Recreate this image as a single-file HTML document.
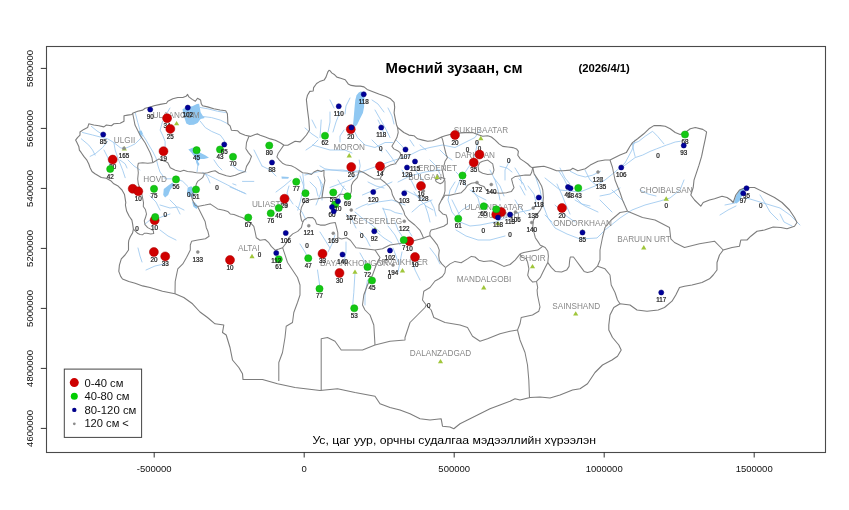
<!DOCTYPE html><html><head><meta charset="utf-8"><style>html,body{margin:0;padding:0;background:#fff;}#w{width:849px;height:510px;overflow:hidden;}svg{display:block;will-change:transform;}text{font-family:"Liberation Sans",Arial,sans-serif;}</style></head><body><div id="w">
<svg width="849" height="510" viewBox="0 0 849 510">
<rect width="849" height="510" fill="#fff"/>
<path d="M188.3 149.6 L192.7 147.7 L197.8 150.2 L200.3 152.7 L205.3 155.2 L209.0 157.7 L204.0 159.0 L200.3 159.0 L197.8 161.5 L199.5 164.0 L198.5 166.0 L196.5 163.0 L195.2 157.7 L191.5 152.7 Z" fill="#90c8f2" stroke="none"/>
<path d="M163.8 188.9 L168.9 185.1 L172.6 182.6 L173.9 185.1 L170.1 190.1 L168.2 195.1 L165.1 197.6 L163.2 195.1 Z" fill="#90c8f2" stroke="none"/>
<path d="M187.7 187.6 L191.4 186.3 L195.2 191.4 L192.7 197.6 L188.9 196.4 L187.1 192.6 Z" fill="#90c8f2" stroke="none"/>
<path d="M192.1 201.4 L195.2 202.7 L198.3 206.4 L196.5 208.9 L193.3 206.4 Z" fill="#90c8f2" stroke="none"/>
<path d="M138.8 131.0 L141.5 130.5 L143.0 134.0 L141.0 136.0 L139.0 134.0 Z" fill="#90c8f2" stroke="none"/>
<path d="M281.4 176.4 L289.0 177.0 L288.0 178.6 L282.0 178.6 Z" fill="#90c8f2" stroke="none"/>
<path d="M734.0 202.6 L736.0 196.0 L739.0 190.5 L743.0 188.0 L744.5 190.0 L742.0 196.0 L739.5 201.0 L736.5 203.5 Z" fill="#90c8f2" stroke="none"/>
<path d="M182.5 109.3 L186.3 107.1 L192.3 106.3 L196.9 104.0 L199.1 103.7 L199.9 107.8 L200.6 112.3 L202.9 116.1 L204.8 118.0 L200.6 119.1 L197.6 122.9 L193.8 124.8 L189.3 125.1 L186.3 123.6 L184.8 119.1 L183.3 113.8 Z" fill="#90c8f2" stroke="none"/>
<path d="M361.2 91.2 L364.7 95.3 L364.1 101.2 L364.1 107.1 L362.9 112.9 L360.0 118.8 L357.1 124.7 L354.7 127.1 L352.9 125.9 L353.5 120.0 L354.1 112.9 L354.7 105.9 L355.3 100.0 L356.5 95.3 L358.8 92.4 Z" fill="#90c8f2" stroke="none"/>
<path d="M320.0 165.9 L324.9 168.8 L332.0 170.0 L342.0 171.0 L352.0 171.5 L359.2 170.8" fill="none" stroke="#9cc8ee" stroke-width="0.85" stroke-linejoin="round" stroke-linecap="round"/>
<path d="M359.2 160.0 L360.2 165.9 L359.2 170.8" fill="none" stroke="#9cc8ee" stroke-width="0.85" stroke-linejoin="round" stroke-linecap="round"/>
<path d="M382.7 208.8 L390.2 210.1 L395.2 212.6 L402.0 214.0" fill="none" stroke="#9cc8ee" stroke-width="0.85" stroke-linejoin="round" stroke-linecap="round"/>
<path d="M367.6 203.8 L362.0 206.0 L356.0 209.0" fill="none" stroke="#9cc8ee" stroke-width="0.85" stroke-linejoin="round" stroke-linecap="round"/>
<path d="M372.0 228.0 L378.0 233.0 L384.0 238.0 L392.0 243.0" fill="none" stroke="#9cc8ee" stroke-width="0.85" stroke-linejoin="round" stroke-linecap="round"/>
<path d="M346.0 214.0 L352.0 220.0 L356.0 228.0" fill="none" stroke="#9cc8ee" stroke-width="0.85" stroke-linejoin="round" stroke-linecap="round"/>
<path d="M360.0 232.0 L366.0 238.0 L370.0 246.0" fill="none" stroke="#9cc8ee" stroke-width="0.85" stroke-linejoin="round" stroke-linecap="round"/>
<path d="M395.0 222.0 L398.0 230.0 L402.0 236.0" fill="none" stroke="#9cc8ee" stroke-width="0.85" stroke-linejoin="round" stroke-linecap="round"/>
<path d="M414.0 192.0 L420.0 200.0 L426.0 206.0 L433.0 210.0" fill="none" stroke="#9cc8ee" stroke-width="0.85" stroke-linejoin="round" stroke-linecap="round"/>
<path d="M425.0 205.0 L428.0 214.0 L430.0 222.0" fill="none" stroke="#9cc8ee" stroke-width="0.85" stroke-linejoin="round" stroke-linecap="round"/>
<path d="M408.0 175.0 L412.0 182.0 L416.0 190.0" fill="none" stroke="#9cc8ee" stroke-width="0.85" stroke-linejoin="round" stroke-linecap="round"/>
<path d="M368.0 182.0 L376.0 186.0 L384.0 188.0" fill="none" stroke="#9cc8ee" stroke-width="0.85" stroke-linejoin="round" stroke-linecap="round"/>
<path d="M338.0 180.0 L342.0 186.0 L346.0 190.0" fill="none" stroke="#9cc8ee" stroke-width="0.85" stroke-linejoin="round" stroke-linecap="round"/>
<path d="M310.0 182.0 L316.0 188.0 L318.0 196.0" fill="none" stroke="#9cc8ee" stroke-width="0.85" stroke-linejoin="round" stroke-linecap="round"/>
<path d="M296.0 206.0 L302.0 212.0 L306.0 220.0" fill="none" stroke="#9cc8ee" stroke-width="0.85" stroke-linejoin="round" stroke-linecap="round"/>
<path d="M286.0 196.0 L280.0 204.0 L276.0 212.0" fill="none" stroke="#9cc8ee" stroke-width="0.85" stroke-linejoin="round" stroke-linecap="round"/>
<path d="M335.0 235.0 L332.0 244.0 L328.0 252.0" fill="none" stroke="#9cc8ee" stroke-width="0.85" stroke-linejoin="round" stroke-linecap="round"/>
<path d="M346.0 242.0 L346.0 252.0 L344.0 262.0" fill="none" stroke="#9cc8ee" stroke-width="0.85" stroke-linejoin="round" stroke-linecap="round"/>
<path d="M360.0 253.0 L365.0 262.0 L366.0 270.0" fill="none" stroke="#9cc8ee" stroke-width="0.85" stroke-linejoin="round" stroke-linecap="round"/>
<path d="M393.0 248.0 L396.0 256.0 L398.0 262.0" fill="none" stroke="#9cc8ee" stroke-width="0.85" stroke-linejoin="round" stroke-linecap="round"/>
<path d="M430.0 248.0 L436.0 256.0 L440.0 264.0" fill="none" stroke="#9cc8ee" stroke-width="0.85" stroke-linejoin="round" stroke-linecap="round"/>
<path d="M456.0 230.0 L466.0 236.0 L478.0 240.0 L490.0 240.0 L505.0 236.0" fill="none" stroke="#9cc8ee" stroke-width="0.85" stroke-linejoin="round" stroke-linecap="round"/>
<path d="M470.0 205.0 L462.0 210.0 L458.0 214.0" fill="none" stroke="#9cc8ee" stroke-width="0.85" stroke-linejoin="round" stroke-linecap="round"/>
<path d="M515.0 200.0 L520.0 208.0 L526.0 214.0" fill="none" stroke="#9cc8ee" stroke-width="0.85" stroke-linejoin="round" stroke-linecap="round"/>
<path d="M528.0 186.0 L534.0 194.0 L536.0 202.0" fill="none" stroke="#9cc8ee" stroke-width="0.85" stroke-linejoin="round" stroke-linecap="round"/>
<path d="M557.0 184.0 L562.0 195.0 L566.0 205.0 L570.0 214.0" fill="none" stroke="#9cc8ee" stroke-width="0.85" stroke-linejoin="round" stroke-linecap="round"/>
<path d="M575.0 200.0 L585.0 206.0 L598.0 212.0" fill="none" stroke="#9cc8ee" stroke-width="0.85" stroke-linejoin="round" stroke-linecap="round"/>
<path d="M600.0 196.0 L610.0 194.0 L620.0 188.0" fill="none" stroke="#9cc8ee" stroke-width="0.85" stroke-linejoin="round" stroke-linecap="round"/>
<path d="M515.0 168.0 L520.0 176.0 L522.0 184.0" fill="none" stroke="#9cc8ee" stroke-width="0.85" stroke-linejoin="round" stroke-linecap="round"/>
<path d="M494.0 178.0 L500.0 186.0 L504.0 196.0" fill="none" stroke="#9cc8ee" stroke-width="0.85" stroke-linejoin="round" stroke-linecap="round"/>
<path d="M456.0 172.0 L462.0 178.0 L466.0 186.0" fill="none" stroke="#9cc8ee" stroke-width="0.85" stroke-linejoin="round" stroke-linecap="round"/>
<path d="M430.0 160.0 L436.0 166.0 L440.0 174.0" fill="none" stroke="#9cc8ee" stroke-width="0.85" stroke-linejoin="round" stroke-linecap="round"/>
<path d="M415.0 170.0 L420.0 176.0 L424.0 182.0" fill="none" stroke="#9cc8ee" stroke-width="0.85" stroke-linejoin="round" stroke-linecap="round"/>
<path d="M402.0 170.0 L406.0 176.0" fill="none" stroke="#9cc8ee" stroke-width="0.85" stroke-linejoin="round" stroke-linecap="round"/>
<path d="M386.0 150.0 L392.0 158.0 L396.0 164.0" fill="none" stroke="#9cc8ee" stroke-width="0.85" stroke-linejoin="round" stroke-linecap="round"/>
<path d="M372.0 140.0 L378.0 146.0 L382.0 152.0" fill="none" stroke="#9cc8ee" stroke-width="0.85" stroke-linejoin="round" stroke-linecap="round"/>
<path d="M344.0 130.0 L340.0 136.0 L340.0 142.0" fill="none" stroke="#9cc8ee" stroke-width="0.85" stroke-linejoin="round" stroke-linecap="round"/>
<path d="M330.0 112.0 L330.0 122.0 L328.0 132.0" fill="none" stroke="#9cc8ee" stroke-width="0.85" stroke-linejoin="round" stroke-linecap="round"/>
<path d="M318.0 140.0 L312.0 146.0 L306.0 150.0" fill="none" stroke="#9cc8ee" stroke-width="0.85" stroke-linejoin="round" stroke-linecap="round"/>
<path d="M388.0 108.0 L392.0 116.0 L394.0 124.0" fill="none" stroke="#9cc8ee" stroke-width="0.85" stroke-linejoin="round" stroke-linecap="round"/>
<path d="M262.0 166.0 L270.0 170.0 L276.0 176.0" fill="none" stroke="#9cc8ee" stroke-width="0.85" stroke-linejoin="round" stroke-linecap="round"/>
<path d="M254.0 150.0 L258.0 158.0 L262.0 166.0" fill="none" stroke="#9cc8ee" stroke-width="0.85" stroke-linejoin="round" stroke-linecap="round"/>
<path d="M232.0 165.0 L238.0 170.0 L246.0 172.0" fill="none" stroke="#9cc8ee" stroke-width="0.85" stroke-linejoin="round" stroke-linecap="round"/>
<path d="M214.0 160.0 L218.0 166.0 L222.0 170.0" fill="none" stroke="#9cc8ee" stroke-width="0.85" stroke-linejoin="round" stroke-linecap="round"/>
<path d="M104.0 150.0 L108.0 158.0 L110.0 166.0" fill="none" stroke="#9cc8ee" stroke-width="0.85" stroke-linejoin="round" stroke-linecap="round"/>
<path d="M128.0 160.0 L134.0 166.0 L140.0 170.0" fill="none" stroke="#9cc8ee" stroke-width="0.85" stroke-linejoin="round" stroke-linecap="round"/>
<path d="M150.0 196.0 L156.0 202.0 L160.0 210.0" fill="none" stroke="#9cc8ee" stroke-width="0.85" stroke-linejoin="round" stroke-linecap="round"/>
<path d="M170.0 200.0 L176.0 206.0 L180.0 214.0" fill="none" stroke="#9cc8ee" stroke-width="0.85" stroke-linejoin="round" stroke-linecap="round"/>
<path d="M160.0 230.0 L168.0 236.0 L176.0 240.0" fill="none" stroke="#9cc8ee" stroke-width="0.85" stroke-linejoin="round" stroke-linecap="round"/>
<path d="M146.0 270.0 L155.0 266.0 L165.0 263.8" fill="none" stroke="#9cc8ee" stroke-width="0.85" stroke-linejoin="round" stroke-linecap="round"/>
<path d="M138.0 248.0 L140.0 256.0 L142.0 262.0" fill="none" stroke="#9cc8ee" stroke-width="0.85" stroke-linejoin="round" stroke-linecap="round"/>
<path d="M559.0 171.3 L564.0 178.9 L567.0 185.0" fill="none" stroke="#9cc8ee" stroke-width="0.85" stroke-linejoin="round" stroke-linecap="round"/>
<path d="M570.3 171.3 L577.8 175.1 L585.3 177.0 L592.8 175.1 L600.4 171.3" fill="none" stroke="#9cc8ee" stroke-width="0.85" stroke-linejoin="round" stroke-linecap="round"/>
<path d="M500.0 166.3 L507.0 168.0 L512.0 172.0" fill="none" stroke="#9cc8ee" stroke-width="0.85" stroke-linejoin="round" stroke-linecap="round"/>
<path d="M518.8 178.9 L523.0 183.0 L526.0 190.0" fill="none" stroke="#9cc8ee" stroke-width="0.85" stroke-linejoin="round" stroke-linecap="round"/>
<path d="M576.0 198.0 L582.0 204.0 L590.0 206.0" fill="none" stroke="#9cc8ee" stroke-width="0.85" stroke-linejoin="round" stroke-linecap="round"/>
<path d="M545.0 215.0 L552.0 222.0" fill="none" stroke="#9cc8ee" stroke-width="0.85" stroke-linejoin="round" stroke-linecap="round"/>
<path d="M600.0 200.0 L606.0 206.0 L612.0 212.0" fill="none" stroke="#9cc8ee" stroke-width="0.85" stroke-linejoin="round" stroke-linecap="round"/>
<path d="M612.0 190.0 L618.0 196.0 L624.0 202.0" fill="none" stroke="#9cc8ee" stroke-width="0.85" stroke-linejoin="round" stroke-linecap="round"/>
<path d="M640.0 190.0 L648.0 194.0 L656.0 196.0" fill="none" stroke="#9cc8ee" stroke-width="0.85" stroke-linejoin="round" stroke-linecap="round"/>
<path d="M720.0 215.0 L728.0 210.0 L736.0 206.0" fill="none" stroke="#9cc8ee" stroke-width="0.85" stroke-linejoin="round" stroke-linecap="round"/>
<path d="M440.0 150.0 L446.0 156.0 L452.0 160.0" fill="none" stroke="#9cc8ee" stroke-width="0.85" stroke-linejoin="round" stroke-linecap="round"/>
<path d="M420.0 145.0 L426.0 150.0" fill="none" stroke="#9cc8ee" stroke-width="0.85" stroke-linejoin="round" stroke-linecap="round"/>
<path d="M410.0 140.0 L414.0 146.0" fill="none" stroke="#9cc8ee" stroke-width="0.85" stroke-linejoin="round" stroke-linecap="round"/>
<path d="M378.0 120.0 L382.0 128.0 L384.0 134.0" fill="none" stroke="#9cc8ee" stroke-width="0.85" stroke-linejoin="round" stroke-linecap="round"/>
<path d="M396.0 140.0 L402.0 146.0 L406.0 152.0" fill="none" stroke="#9cc8ee" stroke-width="0.85" stroke-linejoin="round" stroke-linecap="round"/>
<path d="M330.0 100.0 L334.0 108.0" fill="none" stroke="#9cc8ee" stroke-width="0.85" stroke-linejoin="round" stroke-linecap="round"/>
<path d="M350.0 98.0 L346.0 106.0 L345.0 114.0" fill="none" stroke="#9cc8ee" stroke-width="0.85" stroke-linejoin="round" stroke-linecap="round"/>
<path d="M312.0 120.0 L316.0 128.0" fill="none" stroke="#9cc8ee" stroke-width="0.85" stroke-linejoin="round" stroke-linecap="round"/>
<path d="M305.0 128.0 L312.0 134.0 L318.0 138.0" fill="none" stroke="#9cc8ee" stroke-width="0.85" stroke-linejoin="round" stroke-linecap="round"/>
<path d="M472.0 190.0 L478.0 198.0 L480.0 206.0" fill="none" stroke="#9cc8ee" stroke-width="0.85" stroke-linejoin="round" stroke-linecap="round"/>
<path d="M452.0 200.0 L456.0 208.0 L460.0 216.0" fill="none" stroke="#9cc8ee" stroke-width="0.85" stroke-linejoin="round" stroke-linecap="round"/>
<path d="M430.0 200.0 L434.0 208.0 L436.0 216.0" fill="none" stroke="#9cc8ee" stroke-width="0.85" stroke-linejoin="round" stroke-linecap="round"/>
<path d="M408.0 230.0 L412.0 236.0" fill="none" stroke="#9cc8ee" stroke-width="0.85" stroke-linejoin="round" stroke-linecap="round"/>
<path d="M383.0 208.0 L386.0 216.0 L388.0 224.0" fill="none" stroke="#9cc8ee" stroke-width="0.85" stroke-linejoin="round" stroke-linecap="round"/>
<path d="M680.2 141.3 L675.2 142.0 L670.2 143.8 L666.4 145.1 L661.4 147.0 L656.4 148.9 L650.1 151.4 L642.6 155.1 L635.1 157.6 L630.0 161.4 L625.0 165.2 L621.3 167.7" fill="none" stroke="#9cc8ee" stroke-width="0.85" stroke-linejoin="round" stroke-linecap="round"/>
<path d="M632.5 143.8 L638.8 141.3 L645.1 136.3 L652.6 131.3 L657.6 136.3 L663.9 143.8" fill="none" stroke="#9cc8ee" stroke-width="0.85" stroke-linejoin="round" stroke-linecap="round"/>
<path d="M632.5 143.8 L633.8 151.4 L635.1 156.4" fill="none" stroke="#9cc8ee" stroke-width="0.85" stroke-linejoin="round" stroke-linecap="round"/>
<path d="M82.5 132.5 L92.6 135.0 L102.6 137.6 L107.6 138.8 L113.9 142.6 L120.2 147.6 L124.0 148.9 L130.2 146.3 L135.2 143.8 L140.3 138.8 L142.8 135.1" fill="none" stroke="#9cc8ee" stroke-width="0.85" stroke-linejoin="round" stroke-linecap="round"/>
<path d="M81.3 138.8 L88.8 145.1 L92.6 150.1 L95.1 155.1" fill="none" stroke="#9cc8ee" stroke-width="0.85" stroke-linejoin="round" stroke-linecap="round"/>
<path d="M107.6 141.3 L102.6 147.6 L95.1 153.9 L90.1 156.4" fill="none" stroke="#9cc8ee" stroke-width="0.85" stroke-linejoin="round" stroke-linecap="round"/>
<path d="M113.9 142.6 L115.2 150.1 L117.7 157.6 L120.2 163.9 L122.7 170.2 L125.2 177.7" fill="none" stroke="#9cc8ee" stroke-width="0.85" stroke-linejoin="round" stroke-linecap="round"/>
<path d="M120.2 160.2 L125.2 163.9 L127.0 168.0" fill="none" stroke="#9cc8ee" stroke-width="0.85" stroke-linejoin="round" stroke-linecap="round"/>
<path d="M135.2 112.5 L137.8 122.6 L140.3 131.4" fill="none" stroke="#9cc8ee" stroke-width="0.85" stroke-linejoin="round" stroke-linecap="round"/>
<path d="M142.8 135.1 L146.0 140.0 L150.0 147.0 L153.0 152.0 L156.0 158.0 L158.0 166.0 L160.0 172.0 L165.1 178.8 L171.4 178.8" fill="none" stroke="#9cc8ee" stroke-width="0.85" stroke-linejoin="round" stroke-linecap="round"/>
<path d="M91.3 126.3 L97.0 131.0 L102.0 134.0" fill="none" stroke="#9cc8ee" stroke-width="0.85" stroke-linejoin="round" stroke-linecap="round"/>
<path d="M200.3 107.5 L207.8 108.8 L217.8 111.3 L225.4 112.5" fill="none" stroke="#9cc8ee" stroke-width="0.85" stroke-linejoin="round" stroke-linecap="round"/>
<path d="M201.5 116.3 L211.6 117.6 L220.3 120.1 L227.9 123.8" fill="none" stroke="#9cc8ee" stroke-width="0.85" stroke-linejoin="round" stroke-linecap="round"/>
<path d="M200.3 121.3 L205.3 127.6 L211.6 131.4 L220.3 135.1 L224.1 140.2 L225.4 143.9" fill="none" stroke="#9cc8ee" stroke-width="0.85" stroke-linejoin="round" stroke-linecap="round"/>
<path d="M162.6 121.3 L160.1 130.1 L162.6 135.1 L165.1 141.4 L165.1 150.2" fill="none" stroke="#9cc8ee" stroke-width="0.85" stroke-linejoin="round" stroke-linecap="round"/>
<path d="M170.0 108.0 L167.0 113.0" fill="none" stroke="#9cc8ee" stroke-width="0.85" stroke-linejoin="round" stroke-linecap="round"/>
<path d="M176.4 178.8 L182.7 181.3 L187.7 186.3" fill="none" stroke="#9cc8ee" stroke-width="0.85" stroke-linejoin="round" stroke-linecap="round"/>
<path d="M202.7 172.5 L215.3 178.8 L227.8 185.1 L240.4 191.4 L246.0 193.9" fill="none" stroke="#9cc8ee" stroke-width="0.85" stroke-linejoin="round" stroke-linecap="round"/>
<path d="M205.2 173.8 L208.0 178.0 L210.0 183.0" fill="none" stroke="#9cc8ee" stroke-width="0.85" stroke-linejoin="round" stroke-linecap="round"/>
<path d="M196.3 160.0 L197.8 166.0 L197.0 172.0" fill="none" stroke="#9cc8ee" stroke-width="0.85" stroke-linejoin="round" stroke-linecap="round"/>
<path d="M232.8 183.8 L236.0 185.0" fill="none" stroke="#9cc8ee" stroke-width="0.85" stroke-linejoin="round" stroke-linecap="round"/>
<path d="M242.5 181.4 L253.8 181.4" fill="none" stroke="#9cc8ee" stroke-width="0.85" stroke-linejoin="round" stroke-linecap="round"/>
<path d="M289.0 186.0 L287.0 193.0 L289.0 198.0 L293.0 204.0" fill="none" stroke="#9cc8ee" stroke-width="0.85" stroke-linejoin="round" stroke-linecap="round"/>
<path d="M302.8 173.8 L304.0 185.1 L300.3 201.4 L297.8 210.2" fill="none" stroke="#9cc8ee" stroke-width="0.85" stroke-linejoin="round" stroke-linecap="round"/>
<path d="M317.8 176.3 L322.8 185.1 L320.0 195.0 L316.0 205.0" fill="none" stroke="#9cc8ee" stroke-width="0.85" stroke-linejoin="round" stroke-linecap="round"/>
<path d="M230.0 187.0 L237.5 190.1 L245.0 193.3" fill="none" stroke="#9cc8ee" stroke-width="0.85" stroke-linejoin="round" stroke-linecap="round"/>
<path d="M160.0 205.0 L170.0 208.0 L178.0 207.0 L184.0 210.0" fill="none" stroke="#9cc8ee" stroke-width="0.85" stroke-linejoin="round" stroke-linecap="round"/>
<path d="M145.0 224.0 L150.0 220.0 L156.0 219.0 L164.0 216.0 L170.0 214.0" fill="none" stroke="#9cc8ee" stroke-width="0.85" stroke-linejoin="round" stroke-linecap="round"/>
<path d="M321.2 120.0 L320.0 137.5" fill="none" stroke="#9cc8ee" stroke-width="0.85" stroke-linejoin="round" stroke-linecap="round"/>
<path d="M352.5 127.5 L357.5 137.5 L365.0 145.0 L375.0 147.5 L385.0 142.5 L392.5 142.5" fill="none" stroke="#9cc8ee" stroke-width="0.85" stroke-linejoin="round" stroke-linecap="round"/>
<path d="M375.0 110.0 L385.0 127.5 L390.0 137.5" fill="none" stroke="#9cc8ee" stroke-width="0.85" stroke-linejoin="round" stroke-linecap="round"/>
<path d="M372.0 100.0 L378.0 104.0 L384.0 112.0" fill="none" stroke="#9cc8ee" stroke-width="0.85" stroke-linejoin="round" stroke-linecap="round"/>
<path d="M340.0 112.0 L336.0 122.0 L333.0 132.0" fill="none" stroke="#9cc8ee" stroke-width="0.85" stroke-linejoin="round" stroke-linecap="round"/>
<path d="M312.5 145.0 L330.0 150.0 L345.0 150.0 L352.0 153.0" fill="none" stroke="#9cc8ee" stroke-width="0.85" stroke-linejoin="round" stroke-linecap="round"/>
<path d="M305.0 175.0 L325.0 170.0 L342.5 170.0 L360.0 172.5" fill="none" stroke="#9cc8ee" stroke-width="0.85" stroke-linejoin="round" stroke-linecap="round"/>
<path d="M360.0 172.5 L380.0 165.0 L395.0 160.0 L410.0 155.0 L420.0 150.0 L430.0 147.5 L442.5 145.0 L455.0 147.5 L465.0 142.5 L475.0 137.5 L480.0 130.0" fill="none" stroke="#9cc8ee" stroke-width="0.85" stroke-linejoin="round" stroke-linecap="round"/>
<path d="M455.0 192.5 L460.0 180.0 L465.0 172.5 L470.0 165.0 L475.0 155.0 L477.5 142.5" fill="none" stroke="#9cc8ee" stroke-width="0.85" stroke-linejoin="round" stroke-linecap="round"/>
<path d="M330.0 187.5 L350.0 180.0 L360.0 172.5" fill="none" stroke="#9cc8ee" stroke-width="0.85" stroke-linejoin="round" stroke-linecap="round"/>
<path d="M362.5 195.0 L380.0 187.5 L392.0 182.0" fill="none" stroke="#9cc8ee" stroke-width="0.85" stroke-linejoin="round" stroke-linecap="round"/>
<path d="M300.0 176.0 L303.0 184.0 L305.0 192.0" fill="none" stroke="#9cc8ee" stroke-width="0.85" stroke-linejoin="round" stroke-linecap="round"/>
<path d="M291.0 180.0 L284.0 186.0 L276.0 192.0" fill="none" stroke="#9cc8ee" stroke-width="0.85" stroke-linejoin="round" stroke-linecap="round"/>
<path d="M320.0 180.0 L322.0 190.0 L322.0 200.0" fill="none" stroke="#9cc8ee" stroke-width="0.85" stroke-linejoin="round" stroke-linecap="round"/>
<path d="M344.0 186.0 L340.0 195.0 L338.0 205.0" fill="none" stroke="#9cc8ee" stroke-width="0.85" stroke-linejoin="round" stroke-linecap="round"/>
<path d="M282.0 178.0 L288.0 178.0" fill="none" stroke="#9cc8ee" stroke-width="0.85" stroke-linejoin="round" stroke-linecap="round"/>
<path d="M398.0 182.0 L410.0 176.0 L425.0 172.0 L440.0 170.0" fill="none" stroke="#9cc8ee" stroke-width="0.85" stroke-linejoin="round" stroke-linecap="round"/>
<path d="M405.0 190.0 L415.0 195.0 L425.0 200.0" fill="none" stroke="#9cc8ee" stroke-width="0.85" stroke-linejoin="round" stroke-linecap="round"/>
<path d="M368.0 205.0 L378.0 202.0 L392.0 200.0 L405.0 205.0" fill="none" stroke="#9cc8ee" stroke-width="0.85" stroke-linejoin="round" stroke-linecap="round"/>
<path d="M355.0 212.0 L362.0 218.0 L372.0 225.0 L380.0 232.0" fill="none" stroke="#9cc8ee" stroke-width="0.85" stroke-linejoin="round" stroke-linecap="round"/>
<path d="M388.0 226.0 L395.0 235.0 L400.0 245.0" fill="none" stroke="#9cc8ee" stroke-width="0.85" stroke-linejoin="round" stroke-linecap="round"/>
<path d="M412.0 212.0 L420.0 205.0 L432.0 200.0" fill="none" stroke="#9cc8ee" stroke-width="0.85" stroke-linejoin="round" stroke-linecap="round"/>
<path d="M537.0 205.0 L530.0 210.0 L520.0 212.0 L505.0 218.0 L495.0 222.0 L480.0 225.0 L470.0 226.0 L460.0 222.0 L452.0 212.0 L448.0 200.0 L450.0 190.0 L455.0 182.0" fill="none" stroke="#9cc8ee" stroke-width="0.85" stroke-linejoin="round" stroke-linecap="round"/>
<path d="M470.0 190.0 L478.0 196.0 L486.0 200.0" fill="none" stroke="#9cc8ee" stroke-width="0.85" stroke-linejoin="round" stroke-linecap="round"/>
<path d="M490.0 170.0 L495.0 180.0 L498.0 190.0 L500.0 200.0" fill="none" stroke="#9cc8ee" stroke-width="0.85" stroke-linejoin="round" stroke-linecap="round"/>
<path d="M510.0 160.0 L505.0 170.0 L505.0 180.0" fill="none" stroke="#9cc8ee" stroke-width="0.85" stroke-linejoin="round" stroke-linecap="round"/>
<path d="M520.0 186.0 L525.0 195.0" fill="none" stroke="#9cc8ee" stroke-width="0.85" stroke-linejoin="round" stroke-linecap="round"/>
<path d="M545.0 178.0 L560.0 190.0 L580.0 192.0 L595.0 186.0 L605.0 180.0 L615.0 172.0 L625.0 163.0 L632.0 150.0 L635.0 140.0" fill="none" stroke="#9cc8ee" stroke-width="0.85" stroke-linejoin="round" stroke-linecap="round"/>
<path d="M535.0 175.0 L540.0 190.0 L543.0 205.0 L548.0 218.0 L555.0 228.0 L567.0 234.0 L580.0 239.0 L597.0 238.0 L605.0 230.0 L620.0 218.0 L632.0 210.0 L645.0 205.0 L660.0 201.0 L670.0 198.0 L680.0 190.0 L684.0 180.0" fill="none" stroke="#9cc8ee" stroke-width="0.85" stroke-linejoin="round" stroke-linecap="round"/>
<path d="M560.0 168.0 L565.0 178.0 L570.0 184.0" fill="none" stroke="#9cc8ee" stroke-width="0.85" stroke-linejoin="round" stroke-linecap="round"/>
<path d="M585.0 170.0 L590.0 180.0 L596.0 185.0" fill="none" stroke="#9cc8ee" stroke-width="0.85" stroke-linejoin="round" stroke-linecap="round"/>
<path d="M555.0 205.0 L565.0 215.0 L575.0 222.0" fill="none" stroke="#9cc8ee" stroke-width="0.85" stroke-linejoin="round" stroke-linecap="round"/>
<path d="M800.0 225.0 L790.0 215.0 L780.0 208.0 L770.0 205.0 L760.0 202.0 L750.0 199.0 L745.0 198.0" fill="none" stroke="#9cc8ee" stroke-width="0.85" stroke-linejoin="round" stroke-linecap="round"/>
<path d="M760.0 195.0 L765.0 203.0 L770.0 212.0 L778.0 220.0" fill="none" stroke="#9cc8ee" stroke-width="0.85" stroke-linejoin="round" stroke-linecap="round"/>
<path d="M780.0 214.0 L784.0 222.0 L792.0 226.0" fill="none" stroke="#9cc8ee" stroke-width="0.85" stroke-linejoin="round" stroke-linecap="round"/>
<path d="M725.0 205.0 L735.0 203.0" fill="none" stroke="#9cc8ee" stroke-width="0.85" stroke-linejoin="round" stroke-linecap="round"/>
<path d="M317.5 270.0 L320.0 287.5" fill="none" stroke="#9cc8ee" stroke-width="0.85" stroke-linejoin="round" stroke-linecap="round"/>
<path d="M355.0 272.5 L353.8 292.5 L352.5 307.5" fill="none" stroke="#9cc8ee" stroke-width="0.85" stroke-linejoin="round" stroke-linecap="round"/>
<path d="M367.5 280.0 L365.0 295.0 L365.0 305.0" fill="none" stroke="#9cc8ee" stroke-width="0.85" stroke-linejoin="round" stroke-linecap="round"/>
<path d="M402.0 252.0 L400.0 262.0 L398.0 272.0" fill="none" stroke="#9cc8ee" stroke-width="0.85" stroke-linejoin="round" stroke-linecap="round"/>
<path d="M412.0 260.0 L415.0 270.0 L420.0 280.0" fill="none" stroke="#9cc8ee" stroke-width="0.85" stroke-linejoin="round" stroke-linecap="round"/>
<path d="M300.0 244.0 L305.0 252.0 L310.0 262.0" fill="none" stroke="#9cc8ee" stroke-width="0.85" stroke-linejoin="round" stroke-linecap="round"/>
<path d="M320.0 232.0 L325.0 240.0 L330.0 248.0" fill="none" stroke="#9cc8ee" stroke-width="0.85" stroke-linejoin="round" stroke-linecap="round"/>
<path d="M276.0 255.0 L276.0 262.0" fill="none" stroke="#9cc8ee" stroke-width="0.85" stroke-linejoin="round" stroke-linecap="round"/>
<path d="M132.6 113.2 L133.8 118.8 L135.0 125.1 L137.5 130.1 L140.0 135.1 L142.5 138.9 L145.1 142.7 L147.6 147.7 L150.1 152.7 L152.0 157.7 L152.7 162.7" fill="none" stroke="#808080" stroke-width="1.05" stroke-linejoin="round"/>
<path d="M152.7 162.7 L147.7 163.3 L142.7 162.7 L138.3 163.3 L137.7 166.4 L138.3 172.7 L137.7 179.0 L138.3 184.0 L140.2 188.8 L142.0 195.0 L143.5 202.6 L143.3 206.5 L145.4 209.5 L146.5 214.0 L145.4 217.8 L144.3 220.8 L145.0 224.6 L147.7 227.6 L150.7 229.1 L153.3 230.6 L153.7 233.6 L150.7 234.0 L146.9 233.3 L144.3 233.3 L142.4 234.8 L140.1 234.4 L137.9 233.6 L134.9 230.6 L133.4 229.1" fill="none" stroke="#808080" stroke-width="1.05" stroke-linejoin="round"/>
<path d="M152.7 162.7 L159.0 158.9 L165.3 161.4 L167.8 162.7 L170.3 167.7 L175.3 170.2 L180.3 171.4 L183.8 170.2 L187.5 171.4 L192.5 172.0 L196.3 172.7 L204.5 173.3" fill="none" stroke="#808080" stroke-width="1.05" stroke-linejoin="round"/>
<path d="M204.5 173.3 L207.6 172.7 L211.4 171.4 L215.1 170.8 L218.9 173.3 L222.7 174.5 L226.4 175.8 L230.2 176.4 L235.2 175.2 L240.2 173.3 L245.2 171.4 L246.5 166.4 L249.6 161.4 L251.5 156.3 L248.4 152.6 L245.9 148.8 L246.5 142.5 L249.0 136.3" fill="none" stroke="#808080" stroke-width="1.05" stroke-linejoin="round"/>
<path d="M204.5 173.3 L203.8 175.2 L202.6 177.7 L200.0 179.6 L197.6 181.4 L196.3 184.0 L195.5 188.0 L193.0 193.0 L191.3 195.1 L192.5 200.1 L195.1 205.1 L197.6 206.4" fill="none" stroke="#808080" stroke-width="1.05" stroke-linejoin="round"/>
<path d="M197.6 206.4 L205.1 205.1 L210.1 203.9 L213.9 206.4 L217.6 208.9 L223.9 210.2 L227.7 211.4 L230.2 213.9 L234.0 214.5 L239.0 216.4 L242.7 217.7 L246.5 220.2 L250.3 222.7 L253.8 226.4 L255.0 231.4 L256.3 237.7 L260.0 240.2 L265.1 239.5 L268.8 242.7 L271.3 246.4 L275.1 250.2 L278.9 249.0 L282.6 247.7 L286.4 242.7 L288.9 237.7 L292.7 233.9 L297.7 231.4 L301.4 227.6 L302.7 222.6" fill="none" stroke="#808080" stroke-width="1.05" stroke-linejoin="round"/>
<path d="M197.6 206.4 L200.1 211.4 L202.6 216.4 L205.1 221.4 L206.3 227.7 L207.9 231.3 L209.1 236.3 L205.4 238.8 L197.8 240.1 L191.6 241.3 L190.3 245.0 L190.3 250.1 L186.5 257.6 L182.8 263.9 L177.8 268.9 L176.5 275.2 L175.2 281.5 L175.0 293.8" fill="none" stroke="#808080" stroke-width="1.05" stroke-linejoin="round"/>
<path d="M282.6 247.7 L285.1 255.2 L287.5 262.5 L292.5 270.0 L297.5 277.5 L300.0 285.0 L300.0 295.0 L297.5 302.5 L293.8 312.5 L292.5 322.5 L286.2 326.2 L285.0 337.5 L282.5 352.5 L278.8 362.5 L278.8 381.0" fill="none" stroke="#808080" stroke-width="1.05" stroke-linejoin="round"/>
<path d="M324.0 170.2 L323.9 175.7 L324.9 180.6 L323.9 185.5 L322.9 191.4 L322.0 197.7 L318.0 198.8 L312.7 199.3 L307.7 200.3 L304.0 202.5 L301.4 207.5 L300.2 213.8 L301.4 220.1 L302.7 222.6" fill="none" stroke="#808080" stroke-width="1.05" stroke-linejoin="round"/>
<path d="M283.8 145.1 L281.3 148.8 L278.2 153.2 L276.9 157.0 L279.4 160.1 L282.5 163.2 L286.3 165.1 L291.3 165.8 L295.1 167.6 L298.9 170.2 L302.6 172.7 L307.6 173.3 L311.4 174.5 L313.9 172.0 L317.7 170.2 L321.4 171.4 L324.0 170.2" fill="none" stroke="#808080" stroke-width="1.05" stroke-linejoin="round"/>
<path d="M322.0 197.7 L329.0 197.5 L336.7 197.3 L339.6 194.3 L342.5 194.3 L347.5 195.3 L350.4 194.3 L351.4 191.4 L351.4 185.5 L353.3 181.6 L357.3 177.6 L359.2 170.8 L364.1 172.7 L369.0 175.7 L374.9 179.1 L380.3 178.9" fill="none" stroke="#808080" stroke-width="1.05" stroke-linejoin="round"/>
<path d="M380.3 178.9 L382.5 172.7 L385.3 167.6 L390.3 165.1 L395.4 163.8 L398.8 158.9 L400.7 155.1 L400.1 152.6 L397.6 150.7 L393.8 148.9 L391.9 146.3 L394.4 142.0 L396.9 137.6 L398.2 132.5 L397.6 127.5" fill="none" stroke="#808080" stroke-width="1.05" stroke-linejoin="round"/>
<path d="M380.3 178.9 L385.0 182.5 L388.8 186.3 L391.3 190.1 L392.5 195.1 L395.1 200.1 L398.8 202.6 L401.3 206.4 L403.8 211.4 L404.8 215.0 L408.5 220.0 L414.8 225.0 L419.8 230.1 L422.3 235.1 L423.6 238.2" fill="none" stroke="#808080" stroke-width="1.05" stroke-linejoin="round"/>
<path d="M302.7 222.6 L304.0 220.0 L307.7 217.6 L312.7 217.6 L315.2 220.1 L316.5 223.9 L320.3 225.1 L325.3 225.1 L330.3 223.2 L335.3 222.6 L336.6 227.6 L337.8 232.6 L337.8 237.7 L341.6 238.9 L346.6 237.7 L350.4 240.2 L354.1 245.2 L356.0 247.7 L365.0 248.8 L375.0 250.0 L382.5 248.8 L390.0 245.0 L400.0 243.5 L409.8 241.3 L413.6 240.7 L418.6 239.5 L423.6 238.2" fill="none" stroke="#808080" stroke-width="1.05" stroke-linejoin="round"/>
<path d="M375.0 250.0 L380.0 257.5 L376.2 265.0 L372.5 275.0 L367.5 285.0 L363.8 295.0 L362.5 305.0 L365.0 310.0 L370.0 315.0 L373.8 325.0 L375.0 345.0" fill="none" stroke="#808080" stroke-width="1.05" stroke-linejoin="round"/>
<path d="M321.2 390.5 L321.2 338.8 L327.5 337.5 L335.0 341.2 L341.2 350.0 L362.5 350.0 L375.0 345.0 L390.0 341.2 L405.0 340.0 L405.0 337.5 L410.0 322.5 L417.5 315.0 L425.0 307.5 L426.2 305.0" fill="none" stroke="#808080" stroke-width="1.05" stroke-linejoin="round"/>
<path d="M426.2 305.0 L431.2 310.0 L433.8 317.5 L445.0 322.5 L460.0 325.0 L467.5 327.5 L472.5 336.2 L480.0 341.2 L487.5 338.8 L500.0 333.8 L510.0 331.2 L517.5 330.0" fill="none" stroke="#808080" stroke-width="1.05" stroke-linejoin="round"/>
<path d="M517.5 330.0 L520.0 340.0 L525.0 352.5 L527.5 365.0 L528.8 380.0 L529.5 397.5" fill="none" stroke="#808080" stroke-width="1.05" stroke-linejoin="round"/>
<path d="M517.5 330.0 L520.0 323.8 L521.2 317.5 L532.5 315.0 L538.8 311.2 L540.0 307.0 L537.5 295.0 L537.1 290.0 L537.7 287.7 L536.5 281.4" fill="none" stroke="#808080" stroke-width="1.05" stroke-linejoin="round"/>
<path d="M426.2 305.0 L422.5 300.0 L423.8 291.2 L430.0 287.5 L435.0 281.0 L438.7 279.0 L442.4 276.5 L444.9 272.7 L445.6 267.7" fill="none" stroke="#808080" stroke-width="1.05" stroke-linejoin="round"/>
<path d="M423.6 238.2 L426.1 237.0 L429.9 235.7 L429.9 232.6 L431.1 230.1 L436.2 228.8 L443.7 226.3 L447.4 223.8 L447.4 218.8 L446.2 215.0 L442.7 213.9 L439.0 210.2 L439.0 205.1 L441.5 200.1 L444.0 195.1 L445.0 191.0 L445.0 186.4 L445.0 181.4 L443.8 177.6 L442.5 171.3 L443.8 166.3 L445.0 161.3 L447.5 157.5 L446.3 155.0 L445.0 150.0 L443.8 145.0 L442.7 140.1 L441.5 136.9" fill="none" stroke="#808080" stroke-width="1.05" stroke-linejoin="round"/>
<path d="M429.9 235.7 L433.6 240.1 L437.4 245.1 L439.3 250.1 L438.7 255.2 L439.3 260.2 L441.8 263.9 L445.6 267.7" fill="none" stroke="#808080" stroke-width="1.05" stroke-linejoin="round"/>
<path d="M445.6 267.7 L450.0 263.9 L455.0 261.4 L461.2 262.7 L467.5 258.9 L471.3 256.4 L475.0 257.0 L478.8 260.2 L483.8 261.4 L491.4 260.8 L497.6 263.2 L503.8 266.4 L510.1 264.5 L515.1 260.1 L520.2 253.8" fill="none" stroke="#808080" stroke-width="1.05" stroke-linejoin="round"/>
<path d="M520.2 253.8 L523.9 252.6 L530.2 251.3 L537.7 250.1 L542.7 246.3 L545.2 247.5 L547.8 251.3 L548.4 256.3 L547.8 262.6 L545.2 267.6 L542.7 272.6 L540.2 277.7 L536.5 281.4 L532.7 282.1 L529.6 278.9 L527.7 275.2 L528.9 268.9 L527.7 262.6 L526.4 258.8 L521.4 257.0 L520.2 253.8" fill="none" stroke="#808080" stroke-width="1.05" stroke-linejoin="round"/>
<path d="M547.8 262.6 L551.5 267.6 L555.3 271.4 L561.6 272.0 L566.6 270.1 L569.1 266.4 L569.7 260.1 L570.3 257.0 L573.5 257.0 L576.6 261.3 L580.4 266.4 L584.1 271.4 L587.5 272.5 L592.5 271.2 L597.5 266.2" fill="none" stroke="#808080" stroke-width="1.05" stroke-linejoin="round"/>
<path d="M542.7 246.3 L540.3 245.2 L537.8 241.4 L535.3 237.7 L534.0 232.7 L532.8 226.4 L533.4 220.1 L536.5 215.1 L540.3 210.1 L542.8 205.1 L543.4 197.5 L542.8 190.0 L541.6 186.0 L539.1 181.4 L536.6 177.6 L534.1 173.9 L532.8 167.6" fill="none" stroke="#808080" stroke-width="1.05" stroke-linejoin="round"/>
<path d="M441.5 200.1 L445.0 195.2 L450.0 195.2 L455.1 193.9 L461.3 192.7 L465.1 188.9 L467.6 185.2 L471.4 183.3 L476.4 182.6 L480.2 185.2 L483.9 186.4 L486.4 190.2 L490.2 192.1 L495.2 192.7 L500.2 193.3 L506.5 192.7 L511.5 191.4 L514.0 187.7 L512.8 183.9 L511.5 178.9 L515.3 176.4 L520.3 175.7 L525.3 175.1 L530.3 175.1 L531.6 172.6 L532.8 167.6" fill="none" stroke="#808080" stroke-width="1.05" stroke-linejoin="round"/>
<path d="M482.7 161.3 L487.7 160.1 L492.7 163.8 L494.0 170.1 L492.7 173.9 L487.7 174.5 L482.7 173.2 L478.9 171.3 L478.0 166.0 L480.0 162.5 L482.7 161.3" fill="none" stroke="#808080" stroke-width="1.05" stroke-linejoin="round"/>
<path d="M435.2 180.0 L441.5 177.5 L445.0 178.8 L442.7 182.5 L440.2 183.8 L436.5 181.9 L435.2 180.0" fill="none" stroke="#808080" stroke-width="1.05" stroke-linejoin="round"/>
<path d="M610.0 160.0 L612.5 167.5 L615.0 180.0 L620.0 192.5 L622.5 200.0 L627.5 211.2" fill="none" stroke="#808080" stroke-width="1.05" stroke-linejoin="round"/>
<path d="M627.5 211.2 L642.5 217.5 L655.0 220.0 L669.5 227.5 L670.8 238.8 L674.5 242.5 L684.5 247.5 L699.5 243.8 L714.5 241.2 L723.2 250.0" fill="none" stroke="#808080" stroke-width="1.05" stroke-linejoin="round"/>
<path d="M627.5 211.2 L620.0 212.5 L611.2 220.0 L605.0 227.5 L602.5 237.5 L600.0 250.0 L600.0 260.0 L597.5 266.2 L605.0 268.8 L610.0 275.0 L611.2 285.0 L615.0 292.5 L617.5 300.0 L620.0 303.8" fill="none" stroke="#808080" stroke-width="1.05" stroke-linejoin="round"/>
<path d="M75.6 140.1 L77.5 137.6 L80.0 135.1 L80.0 132.0 L83.8 129.4 L87.6 127.6 L88.8 123.8 L93.8 125.0 L98.9 125.7 L103.9 126.9 L106.4 125.0 L111.4 125.7 L113.9 123.8 L120.2 123.2 L124.0 121.3 L124.0 115.7 L127.6 115.1 L132.0 114.5 L132.6 113.2 L137.7 111.3 L142.7 110.1 L145.2 108.2 L150.2 107.0 L154.0 105.7 L160.2 104.4 L166.5 103.2 L167.8 101.3 L172.8 98.8 L177.8 97.5 L182.8 97.5 L186.0 96.3 L187.6 94.4 L188.9 96.9 L192.2 99.4 L195.4 101.3 L197.5 98.2 L200.6 100.0 L201.3 103.8 L202.5 105.7 L207.5 106.9 L213.8 108.8 L220.1 110.0 L225.7 110.7 L227.4 113.8 L227.9 123.9 L230.1 125.8 L231.4 130.2 L237.7 130.8 L240.2 133.3 L245.2 135.2 L250.2 136.4 L255.2 134.5 L257.7 133.9 L260.2 135.2 L265.3 137.1 L270.3 138.9 L275.3 140.2 L280.3 142.7 L284.1 145.2 L287.8 145.2 L295.1 141.3 L300.1 141.9 L302.6 139.4 L306.4 135.0 L309.5 130.0 L308.8 120.0 L307.5 110.0 L306.4 99.7 L307.5 95.2 L309.8 91.4 L313.2 91.0 L313.6 87.6 L316.6 83.5 L319.6 81.6 L324.1 80.1 L326.0 77.1 L327.9 71.8 L329.0 70.3 L330.1 70.7 L331.7 72.9 L334.7 74.8 L336.9 77.1 L340.7 78.2 L345.2 79.7 L348.2 83.9 L351.2 85.4 L355.8 86.1 L360.3 86.1 L364.0 86.9 L367.1 89.4 L372.9 91.8 L378.8 94.1 L385.9 96.5 L390.6 98.8 L394.1 102.4 L394.7 107.1 L394.1 112.9 L395.3 118.8 L396.5 124.7 L397.6 127.5 L400.7 130.0 L403.8 132.5 L408.9 135.1 L413.9 135.7 L417.6 138.8 L422.7 140.1 L427.7 141.3 L432.7 140.7 L437.7 138.8 L441.5 136.9 L445.2 135.7 L450.0 134.5 L456.3 133.2 L465.1 132.6 L472.6 132.6 L477.6 134.5 L482.7 136.3 L487.7 135.7 L491.4 137.0 L495.2 140.1 L499.0 143.9 L502.7 146.4 L507.8 147.0 L512.8 147.6 L516.5 148.9 L518.4 151.4 L517.8 155.2 L520.3 158.9 L524.1 161.4 L527.8 164.0 L530.3 166.5 L532.0 167.6 L537.6 166.9 L543.9 166.3 L550.2 168.2 L556.5 170.7 L562.7 170.7 L570.3 170.1 L572.8 168.2 L577.8 170.7 L585.3 168.8 L590.3 165.1 L597.9 161.3 L605.0 160.0 L610.0 160.0 L617.5 156.2 L620.0 155.1 L626.3 152.6 L630.0 146.3 L632.5 142.6 L637.6 138.8 L643.8 133.8 L648.9 128.8 L653.9 125.6 L660.2 125.6 L665.2 126.3 L670.2 128.8 L675.2 132.5 L680.2 134.4 L685.2 132.5 L690.3 128.8 L695.3 127.5 L702.8 129.4 L706.6 131.9 L705.3 138.8 L703.4 147.6 L701.6 156.4 L699.0 165.2 L696.5 172.7 L694.0 180.2 L693.2 187.5 L690.8 195.0 L694.5 200.0 L700.8 206.2 L703.2 202.5 L709.5 200.0 L714.5 198.8 L722.0 196.2 L727.0 197.5 L730.8 200.0 L733.2 202.5 L735.8 195.0 L739.5 190.0 L745.8 187.5 L754.5 187.5 L764.5 192.5 L774.5 197.5 L782.0 202.5 L789.5 210.0 L794.5 217.5 L797.0 222.5 L794.5 226.2 L787.0 228.8 L780.8 227.5 L773.2 227.0 L764.5 230.0 L757.0 231.2 L750.8 236.2 L747.0 240.0 L740.8 240.0 L739.5 246.2 L732.0 247.5 L723.2 250.0 L719.5 255.0 L717.0 262.5 L717.0 270.0 L713.2 275.0 L709.5 278.8 L702.0 282.5 L692.0 285.0 L684.5 286.2 L679.5 287.5 L675.8 295.0 L672.0 301.2 L664.5 307.5 L658.2 310.0 L647.0 311.2 L637.0 310.0 L630.0 305.0 L620.0 303.8 L613.8 307.5 L610.0 315.0 L608.8 325.0 L608.8 330.0 L612.5 337.5 L618.8 345.0 L621.2 350.0 L617.5 356.2 L612.0 360.0 L602.5 365.0 L595.0 372.5 L587.5 383.8 L580.0 388.8 L572.5 390.0 L560.0 395.0 L550.0 398.0 L540.0 397.0 L530.0 397.5 L520.0 400.0 L515.0 398.8 L510.0 401.2 L500.0 405.0 L490.0 408.8 L480.0 413.8 L470.0 418.8 L460.0 423.8 L453.8 428.8 L450.0 427.0 L442.5 426.2 L441.2 418.8 L430.0 420.0 L420.0 418.8 L410.0 413.8 L400.0 410.0 L390.0 407.5 L380.0 403.8 L375.0 396.2 L355.0 392.5 L337.5 388.8 L320.0 390.5 L295.0 387.5 L277.5 383.8 L262.5 379.5 L243.0 379.5 L242.5 373.8 L238.8 367.5 L232.5 360.0 L230.0 347.5 L226.2 335.0 L222.5 332.5 L223.8 325.0 L215.0 323.8 L207.5 317.5 L200.0 312.0 L192.5 303.8 L183.8 297.5 L175.0 293.8 L162.5 291.2 L150.0 287.5 L142.6 285.9 L135.1 283.3 L128.8 281.5 L122.5 279.0 L120.7 276.4 L118.8 271.4 L119.4 265.2 L121.3 258.9 L125.0 255.0 L128.5 250.0 L128.5 243.0 L128.8 240.4 L130.3 236.7 L132.6 232.9 L133.4 229.1 L132.6 223.8 L131.9 220.1 L129.2 216.3 L126.6 211.0 L125.4 205.0 L125.8 202.6 L124.5 194.5 L122.0 190.0 L117.6 185.7 L113.8 183.8 L110.7 180.7 L106.3 178.2 L101.3 177.5 L95.0 173.8 L92.0 171.5 L90.1 167.7 L88.8 164.0 L86.9 160.2 L83.8 156.4 L81.3 152.7 L79.4 150.2 L78.8 146.4 L76.9 142.6 Z" fill="none" stroke="#7c7c7c" stroke-width="1.1" stroke-linejoin="round"/>
<text x="176.1" y="117.7" font-size="8.2" fill="#888" text-anchor="middle">ULAANGOM</text>
<text x="124.5" y="143.3" font-size="8.2" fill="#888" text-anchor="middle">ULGII</text>
<text x="155.2" y="182.0" font-size="8.2" fill="#888" text-anchor="middle">HOVD</text>
<text x="269.8" y="207.0" font-size="8.2" fill="#888" text-anchor="middle">ULIASTAI</text>
<text x="248.75" y="251.3" font-size="8.2" fill="#888" text-anchor="middle">ALTAI</text>
<text x="349.25" y="150.1" font-size="8.2" fill="#888" text-anchor="middle">MORON</text>
<text x="375" y="223.8" font-size="8.2" fill="#888" text-anchor="middle">TSETSERLEG</text>
<text x="354.5" y="265.6" font-size="8.2" fill="#888" text-anchor="middle">BAYANKHONGOR</text>
<text x="402" y="265.1" font-size="8.2" fill="#888" text-anchor="middle">ARVAIKHEER</text>
<text x="437.5" y="171.3" font-size="8.2" fill="#888" text-anchor="middle">ERDENET</text>
<text x="425" y="180.1" font-size="8.2" fill="#888" text-anchor="middle">BULGAN</text>
<text x="481" y="132.6" font-size="8.2" fill="#888" text-anchor="middle">SUKHBAATAR</text>
<text x="475" y="157.6" font-size="8.2" fill="#888" text-anchor="middle">DARKHAN</text>
<text x="494" y="209.6" font-size="8.2" fill="#888" text-anchor="middle">ULAANBAATAR</text>
<text x="498.5" y="217.6" font-size="8.2" fill="#888" text-anchor="middle">ZUUNMOD</text>
<text x="532.5" y="260.6" font-size="8.2" fill="#888" text-anchor="middle">CHOIR</text>
<text x="484" y="281.6" font-size="8.2" fill="#888" text-anchor="middle">MANDALGOBI</text>
<text x="440.5" y="356.1" font-size="8.2" fill="#888" text-anchor="middle">DALANZADGAD</text>
<text x="576.25" y="308.9" font-size="8.2" fill="#888" text-anchor="middle">SAINSHAND</text>
<text x="582.5" y="225.8" font-size="8.2" fill="#888" text-anchor="middle">ONDORKHAAN</text>
<text x="644" y="242.1" font-size="8.2" fill="#888" text-anchor="middle">BARUUN URT</text>
<text x="666.25" y="192.6" font-size="8.2" fill="#888" text-anchor="middle">CHOIBALSAN</text>
<path d="M176.6 120.9 L179.2 125.3 L174.0 125.3 Z" fill="#a0c63a"/>
<path d="M349.2 153.1 L351.9 157.5 L346.6 157.5 Z" fill="#a0c63a"/>
<path d="M480.8 135.8 L483.4 140.2 L478.2 140.2 Z" fill="#a0c63a"/>
<path d="M252.0 253.8 L254.6 258.2 L249.4 258.2 Z" fill="#a0c63a"/>
<path d="M355.0 269.4 L357.6 273.8 L352.4 273.8 Z" fill="#a0c63a"/>
<path d="M402.5 268.1 L405.1 272.5 L399.9 272.5 Z" fill="#a0c63a"/>
<path d="M483.8 285.1 L486.4 289.5 L481.1 289.5 Z" fill="#a0c63a"/>
<path d="M440.5 358.9 L443.1 363.2 L437.9 363.2 Z" fill="#a0c63a"/>
<path d="M575.7 311.2 L578.3 315.6 L573.1 315.6 Z" fill="#a0c63a"/>
<path d="M643.8 245.1 L646.4 249.5 L641.1 249.5 Z" fill="#a0c63a"/>
<path d="M666.2 196.3 L668.9 200.8 L663.6 200.8 Z" fill="#a0c63a"/>
<path d="M532.5 263.9 L535.1 268.2 L529.9 268.2 Z" fill="#a0c63a"/>
<path d="M124.3 146.0 L126.9 150.4 L121.7 150.4 Z" fill="#a0c63a"/>
<path d="M155.2 185.2 L157.8 189.6 L152.6 189.6 Z" fill="#a0c63a"/>
<path d="M269.8 210.2 L272.4 214.6 L267.2 214.6 Z" fill="#a0c63a"/>
<path d="M375.0 227.1 L377.6 231.5 L372.4 231.5 Z" fill="#a0c63a"/>
<path d="M437.0 174.6 L439.6 179.0 L434.4 179.0 Z" fill="#a0c63a"/>
<path d="M421.0 183.6 L423.6 188.0 L418.4 188.0 Z" fill="#a0c63a"/>
<path d="M475.0 160.6 L477.6 165.0 L472.4 165.0 Z" fill="#a0c63a"/>
<path d="M494.0 212.6 L496.6 217.0 L491.4 217.0 Z" fill="#a0c63a"/>
<path d="M498.0 220.9 L500.6 225.3 L495.4 225.3 Z" fill="#a0c63a"/>
<path d="M582.5 229.1 L585.1 233.5 L579.9 233.5 Z" fill="#a0c63a"/>
<text x="188.75" y="196.7" font-size="6.3" fill="#1a1a1a" stroke="#1a1a1a" stroke-width="0.22" text-anchor="middle">0</text>
<text x="217" y="189.7" font-size="6.3" fill="#1a1a1a" stroke="#1a1a1a" stroke-width="0.22" text-anchor="middle">0</text>
<text x="165.3" y="216.7" font-size="6.3" fill="#1a1a1a" stroke="#1a1a1a" stroke-width="0.22" text-anchor="middle">0</text>
<text x="137" y="231.2" font-size="6.3" fill="#1a1a1a" stroke="#1a1a1a" stroke-width="0.22" text-anchor="middle">0</text>
<text x="259.5" y="256.7" font-size="6.3" fill="#1a1a1a" stroke="#1a1a1a" stroke-width="0.22" text-anchor="middle">0</text>
<text x="307" y="247.7" font-size="6.3" fill="#1a1a1a" stroke="#1a1a1a" stroke-width="0.22" text-anchor="middle">0</text>
<text x="345.75" y="235.9" font-size="6.3" fill="#1a1a1a" stroke="#1a1a1a" stroke-width="0.22" text-anchor="middle">0</text>
<text x="361.75" y="237.9" font-size="6.3" fill="#1a1a1a" stroke="#1a1a1a" stroke-width="0.22" text-anchor="middle">0</text>
<text x="380.75" y="150.9" font-size="6.3" fill="#1a1a1a" stroke="#1a1a1a" stroke-width="0.22" text-anchor="middle">0</text>
<text x="389.5" y="279.2" font-size="6.3" fill="#1a1a1a" stroke="#1a1a1a" stroke-width="0.22" text-anchor="middle">0</text>
<text x="428.75" y="308.4" font-size="6.3" fill="#1a1a1a" stroke="#1a1a1a" stroke-width="0.22" text-anchor="middle">0</text>
<text x="467.5" y="152.2" font-size="6.3" fill="#1a1a1a" stroke="#1a1a1a" stroke-width="0.22" text-anchor="middle">0</text>
<text x="477" y="144.7" font-size="6.3" fill="#1a1a1a" stroke="#1a1a1a" stroke-width="0.22" text-anchor="middle">0</text>
<text x="479.5" y="150.9" font-size="6.3" fill="#1a1a1a" stroke="#1a1a1a" stroke-width="0.22" text-anchor="middle">0</text>
<text x="508.75" y="163.4" font-size="6.3" fill="#1a1a1a" stroke="#1a1a1a" stroke-width="0.22" text-anchor="middle">0</text>
<text x="483.25" y="233.4" font-size="6.3" fill="#1a1a1a" stroke="#1a1a1a" stroke-width="0.22" text-anchor="middle">0</text>
<text x="510" y="236.7" font-size="6.3" fill="#1a1a1a" stroke="#1a1a1a" stroke-width="0.22" text-anchor="middle">0</text>
<text x="658" y="158.4" font-size="6.3" fill="#1a1a1a" stroke="#1a1a1a" stroke-width="0.22" text-anchor="middle">0</text>
<text x="666.25" y="208.4" font-size="6.3" fill="#1a1a1a" stroke="#1a1a1a" stroke-width="0.22" text-anchor="middle">0</text>
<text x="760.75" y="208.4" font-size="6.3" fill="#1a1a1a" stroke="#1a1a1a" stroke-width="0.22" text-anchor="middle">0</text>
<text x="167.1" y="127.8" font-size="6.3" fill="#1a1a1a" stroke="#1a1a1a" stroke-width="0.22" text-anchor="middle">34</text>
<text x="170.3" y="138.5" font-size="6.3" fill="#1a1a1a" stroke="#1a1a1a" stroke-width="0.22" text-anchor="middle">25</text>
<text x="163.5" y="160.8" font-size="6.3" fill="#1a1a1a" stroke="#1a1a1a" stroke-width="0.22" text-anchor="middle">19</text>
<text x="112.7" y="169.2" font-size="6.3" fill="#1a1a1a" stroke="#1a1a1a" stroke-width="0.22" text-anchor="middle">30</text>
<text x="138.3" y="200.9" font-size="6.3" fill="#1a1a1a" stroke="#1a1a1a" stroke-width="0.22" text-anchor="middle">10</text>
<text x="154.6" y="229.8" font-size="6.3" fill="#1a1a1a" stroke="#1a1a1a" stroke-width="0.22" text-anchor="middle">10</text>
<text x="153.9" y="261.6" font-size="6.3" fill="#1a1a1a" stroke="#1a1a1a" stroke-width="0.22" text-anchor="middle">20</text>
<text x="165.2" y="266.0" font-size="6.3" fill="#1a1a1a" stroke="#1a1a1a" stroke-width="0.22" text-anchor="middle">33</text>
<text x="230" y="269.6" font-size="6.3" fill="#1a1a1a" stroke="#1a1a1a" stroke-width="0.22" text-anchor="middle">10</text>
<text x="284.5" y="208.3" font-size="6.3" fill="#1a1a1a" stroke="#1a1a1a" stroke-width="0.22" text-anchor="middle">29</text>
<text x="322.5" y="263.4" font-size="6.3" fill="#1a1a1a" stroke="#1a1a1a" stroke-width="0.22" text-anchor="middle">33</text>
<text x="339.5" y="282.6" font-size="6.3" fill="#1a1a1a" stroke="#1a1a1a" stroke-width="0.22" text-anchor="middle">30</text>
<text x="351.25" y="176.6" font-size="6.3" fill="#1a1a1a" stroke="#1a1a1a" stroke-width="0.22" text-anchor="middle">26</text>
<text x="350.75" y="138.8" font-size="6.3" fill="#1a1a1a" stroke="#1a1a1a" stroke-width="0.22" text-anchor="middle">20</text>
<text x="380" y="175.8" font-size="6.3" fill="#1a1a1a" stroke="#1a1a1a" stroke-width="0.22" text-anchor="middle">14</text>
<text x="421" y="195.6" font-size="6.3" fill="#1a1a1a" stroke="#1a1a1a" stroke-width="0.22" text-anchor="middle">16</text>
<text x="455" y="144.6" font-size="6.3" fill="#1a1a1a" stroke="#1a1a1a" stroke-width="0.22" text-anchor="middle">20</text>
<text x="473.75" y="172.1" font-size="6.3" fill="#1a1a1a" stroke="#1a1a1a" stroke-width="0.22" text-anchor="middle">35</text>
<text x="409.25" y="250.8" font-size="6.3" fill="#1a1a1a" stroke="#1a1a1a" stroke-width="0.22" text-anchor="middle">10</text>
<text x="415" y="266.6" font-size="6.3" fill="#1a1a1a" stroke="#1a1a1a" stroke-width="0.22" text-anchor="middle">10</text>
<text x="562" y="217.6" font-size="6.3" fill="#1a1a1a" stroke="#1a1a1a" stroke-width="0.22" text-anchor="middle">20</text>
<circle cx="167.1" cy="118.2" r="4.5" fill="#d00000" stroke="#a80000" stroke-width="0.5"/>
<circle cx="170.3" cy="128.9" r="4.5" fill="#d00000" stroke="#a80000" stroke-width="0.5"/>
<circle cx="163.5" cy="151.2" r="4.5" fill="#d00000" stroke="#a80000" stroke-width="0.5"/>
<circle cx="112.7" cy="159.6" r="4.5" fill="#d00000" stroke="#a80000" stroke-width="0.5"/>
<circle cx="132.7" cy="188.8" r="4.5" fill="#d00000" stroke="#a80000" stroke-width="0.5"/>
<circle cx="138.3" cy="191.3" r="4.5" fill="#d00000" stroke="#a80000" stroke-width="0.5"/>
<circle cx="154.6" cy="220.2" r="4.5" fill="#d00000" stroke="#a80000" stroke-width="0.5"/>
<circle cx="153.9" cy="252" r="4.5" fill="#d00000" stroke="#a80000" stroke-width="0.5"/>
<circle cx="165.2" cy="256.4" r="4.5" fill="#d00000" stroke="#a80000" stroke-width="0.5"/>
<circle cx="230" cy="260" r="4.5" fill="#d00000" stroke="#a80000" stroke-width="0.5"/>
<circle cx="284.5" cy="198.75" r="4.5" fill="#d00000" stroke="#a80000" stroke-width="0.5"/>
<circle cx="322.5" cy="253.75" r="4.5" fill="#d00000" stroke="#a80000" stroke-width="0.5"/>
<circle cx="339.5" cy="273" r="4.5" fill="#d00000" stroke="#a80000" stroke-width="0.5"/>
<circle cx="351.25" cy="167" r="4.5" fill="#d00000" stroke="#a80000" stroke-width="0.5"/>
<circle cx="350.75" cy="129.25" r="4.5" fill="#d00000" stroke="#a80000" stroke-width="0.5"/>
<circle cx="380" cy="166.25" r="4.5" fill="#d00000" stroke="#a80000" stroke-width="0.5"/>
<circle cx="421" cy="186" r="4.5" fill="#d00000" stroke="#a80000" stroke-width="0.5"/>
<circle cx="455" cy="135" r="4.5" fill="#d00000" stroke="#a80000" stroke-width="0.5"/>
<circle cx="479.5" cy="154.5" r="4.5" fill="#d00000" stroke="#a80000" stroke-width="0.5"/>
<circle cx="473.75" cy="162.5" r="4.5" fill="#d00000" stroke="#a80000" stroke-width="0.5"/>
<circle cx="409.25" cy="241.25" r="4.5" fill="#d00000" stroke="#a80000" stroke-width="0.5"/>
<circle cx="415" cy="257" r="4.5" fill="#d00000" stroke="#a80000" stroke-width="0.5"/>
<circle cx="562" cy="208" r="4.5" fill="#d00000" stroke="#a80000" stroke-width="0.5"/>
<circle cx="501.25" cy="212" r="4.5" fill="#d00000" stroke="#a80000" stroke-width="0.5"/>
<circle cx="496.25" cy="214.5" r="4.5" fill="#d00000" stroke="#a80000" stroke-width="0.5"/>
<text x="110.2" y="178.6" font-size="6.3" fill="#1a1a1a" stroke="#1a1a1a" stroke-width="0.22" text-anchor="middle">42</text>
<text x="196.6" y="159.8" font-size="6.3" fill="#1a1a1a" stroke="#1a1a1a" stroke-width="0.22" text-anchor="middle">45</text>
<text x="220" y="159.1" font-size="6.3" fill="#1a1a1a" stroke="#1a1a1a" stroke-width="0.22" text-anchor="middle">43</text>
<text x="233" y="166.3" font-size="6.3" fill="#1a1a1a" stroke="#1a1a1a" stroke-width="0.22" text-anchor="middle">70</text>
<text x="269.25" y="155.1" font-size="6.3" fill="#1a1a1a" stroke="#1a1a1a" stroke-width="0.22" text-anchor="middle">80</text>
<text x="176" y="189.0" font-size="6.3" fill="#1a1a1a" stroke="#1a1a1a" stroke-width="0.22" text-anchor="middle">56</text>
<text x="154" y="198.4" font-size="6.3" fill="#1a1a1a" stroke="#1a1a1a" stroke-width="0.22" text-anchor="middle">75</text>
<text x="196" y="199.1" font-size="6.3" fill="#1a1a1a" stroke="#1a1a1a" stroke-width="0.22" text-anchor="middle">51</text>
<text x="296.25" y="191.3" font-size="6.3" fill="#1a1a1a" stroke="#1a1a1a" stroke-width="0.22" text-anchor="middle">77</text>
<text x="305.5" y="202.8" font-size="6.3" fill="#1a1a1a" stroke="#1a1a1a" stroke-width="0.22" text-anchor="middle">63</text>
<text x="278.75" y="217.6" font-size="6.3" fill="#1a1a1a" stroke="#1a1a1a" stroke-width="0.22" text-anchor="middle">46</text>
<text x="270.75" y="222.8" font-size="6.3" fill="#1a1a1a" stroke="#1a1a1a" stroke-width="0.22" text-anchor="middle">76</text>
<text x="248.25" y="227.1" font-size="6.3" fill="#1a1a1a" stroke="#1a1a1a" stroke-width="0.22" text-anchor="middle">67</text>
<text x="278.75" y="268.9" font-size="6.3" fill="#1a1a1a" stroke="#1a1a1a" stroke-width="0.22" text-anchor="middle">61</text>
<text x="308.25" y="267.9" font-size="6.3" fill="#1a1a1a" stroke="#1a1a1a" stroke-width="0.22" text-anchor="middle">47</text>
<text x="333.25" y="202.1" font-size="6.3" fill="#1a1a1a" stroke="#1a1a1a" stroke-width="0.22" text-anchor="middle">59</text>
<text x="347.5" y="205.8" font-size="6.3" fill="#1a1a1a" stroke="#1a1a1a" stroke-width="0.22" text-anchor="middle">69</text>
<text x="325" y="145.3" font-size="6.3" fill="#1a1a1a" stroke="#1a1a1a" stroke-width="0.22" text-anchor="middle">62</text>
<text x="403.75" y="249.6" font-size="6.3" fill="#1a1a1a" stroke="#1a1a1a" stroke-width="0.22" text-anchor="middle">7</text>
<text x="367.5" y="276.6" font-size="6.3" fill="#1a1a1a" stroke="#1a1a1a" stroke-width="0.22" text-anchor="middle">72</text>
<text x="372" y="290.1" font-size="6.3" fill="#1a1a1a" stroke="#1a1a1a" stroke-width="0.22" text-anchor="middle">45</text>
<text x="319.5" y="298.4" font-size="6.3" fill="#1a1a1a" stroke="#1a1a1a" stroke-width="0.22" text-anchor="middle">77</text>
<text x="354.25" y="317.9" font-size="6.3" fill="#1a1a1a" stroke="#1a1a1a" stroke-width="0.22" text-anchor="middle">53</text>
<text x="462.5" y="185.1" font-size="6.3" fill="#1a1a1a" stroke="#1a1a1a" stroke-width="0.22" text-anchor="middle">78</text>
<text x="483.75" y="215.8" font-size="6.3" fill="#1a1a1a" stroke="#1a1a1a" stroke-width="0.22" text-anchor="middle">65</text>
<text x="458.25" y="228.3" font-size="6.3" fill="#1a1a1a" stroke="#1a1a1a" stroke-width="0.22" text-anchor="middle">61</text>
<text x="578.25" y="197.6" font-size="6.3" fill="#1a1a1a" stroke="#1a1a1a" stroke-width="0.22" text-anchor="middle">43</text>
<text x="685" y="144.1" font-size="6.3" fill="#1a1a1a" stroke="#1a1a1a" stroke-width="0.22" text-anchor="middle">68</text>
<circle cx="110.2" cy="169" r="3.6" fill="#14c814" stroke="#00aa00" stroke-width="0.5"/>
<circle cx="196.6" cy="150.2" r="3.6" fill="#14c814" stroke="#00aa00" stroke-width="0.5"/>
<circle cx="220" cy="149.5" r="3.6" fill="#14c814" stroke="#00aa00" stroke-width="0.5"/>
<circle cx="233" cy="156.75" r="3.6" fill="#14c814" stroke="#00aa00" stroke-width="0.5"/>
<circle cx="269.25" cy="145.5" r="3.6" fill="#14c814" stroke="#00aa00" stroke-width="0.5"/>
<circle cx="176" cy="179.4" r="3.6" fill="#14c814" stroke="#00aa00" stroke-width="0.5"/>
<circle cx="154" cy="188.8" r="3.6" fill="#14c814" stroke="#00aa00" stroke-width="0.5"/>
<circle cx="196" cy="189.5" r="3.6" fill="#14c814" stroke="#00aa00" stroke-width="0.5"/>
<circle cx="155.2" cy="217" r="3.6" fill="#14c814" stroke="#00aa00" stroke-width="0.5"/>
<circle cx="296.25" cy="181.75" r="3.6" fill="#14c814" stroke="#00aa00" stroke-width="0.5"/>
<circle cx="305.5" cy="193.25" r="3.6" fill="#14c814" stroke="#00aa00" stroke-width="0.5"/>
<circle cx="278.75" cy="208" r="3.6" fill="#14c814" stroke="#00aa00" stroke-width="0.5"/>
<circle cx="270.75" cy="213.25" r="3.6" fill="#14c814" stroke="#00aa00" stroke-width="0.5"/>
<circle cx="248.25" cy="217.5" r="3.6" fill="#14c814" stroke="#00aa00" stroke-width="0.5"/>
<circle cx="278.75" cy="259.25" r="3.6" fill="#14c814" stroke="#00aa00" stroke-width="0.5"/>
<circle cx="308.25" cy="258.25" r="3.6" fill="#14c814" stroke="#00aa00" stroke-width="0.5"/>
<circle cx="333.25" cy="192.5" r="3.6" fill="#14c814" stroke="#00aa00" stroke-width="0.5"/>
<circle cx="335.1" cy="204.5" r="3.6" fill="#14c814" stroke="#00aa00" stroke-width="0.5"/>
<circle cx="347.5" cy="196.25" r="3.6" fill="#14c814" stroke="#00aa00" stroke-width="0.5"/>
<circle cx="325" cy="135.75" r="3.6" fill="#14c814" stroke="#00aa00" stroke-width="0.5"/>
<circle cx="403.75" cy="240" r="3.6" fill="#14c814" stroke="#00aa00" stroke-width="0.5"/>
<circle cx="367.5" cy="267" r="3.6" fill="#14c814" stroke="#00aa00" stroke-width="0.5"/>
<circle cx="372" cy="280.5" r="3.6" fill="#14c814" stroke="#00aa00" stroke-width="0.5"/>
<circle cx="319.5" cy="288.75" r="3.6" fill="#14c814" stroke="#00aa00" stroke-width="0.5"/>
<circle cx="354.25" cy="308.25" r="3.6" fill="#14c814" stroke="#00aa00" stroke-width="0.5"/>
<circle cx="462.5" cy="175.5" r="3.6" fill="#14c814" stroke="#00aa00" stroke-width="0.5"/>
<circle cx="483.75" cy="206.25" r="3.6" fill="#14c814" stroke="#00aa00" stroke-width="0.5"/>
<circle cx="496.25" cy="209.25" r="3.6" fill="#14c814" stroke="#00aa00" stroke-width="0.5"/>
<circle cx="458.25" cy="218.75" r="3.6" fill="#14c814" stroke="#00aa00" stroke-width="0.5"/>
<circle cx="578.25" cy="188" r="3.6" fill="#14c814" stroke="#00aa00" stroke-width="0.5"/>
<circle cx="685" cy="134.5" r="3.6" fill="#14c814" stroke="#00aa00" stroke-width="0.5"/>
<text x="150.2" y="119.1" font-size="6.3" fill="#1a1a1a" stroke="#1a1a1a" stroke-width="0.22" text-anchor="middle">90</text>
<text x="187.8" y="117.2" font-size="6.3" fill="#1a1a1a" stroke="#1a1a1a" stroke-width="0.22" text-anchor="middle">102</text>
<text x="103.2" y="144.1" font-size="6.3" fill="#1a1a1a" stroke="#1a1a1a" stroke-width="0.22" text-anchor="middle">85</text>
<text x="224.25" y="154.1" font-size="6.3" fill="#1a1a1a" stroke="#1a1a1a" stroke-width="0.22" text-anchor="middle">65</text>
<text x="272" y="172.1" font-size="6.3" fill="#1a1a1a" stroke="#1a1a1a" stroke-width="0.22" text-anchor="middle">88</text>
<text x="363.75" y="103.8" font-size="6.3" fill="#1a1a1a" stroke="#1a1a1a" stroke-width="0.22" text-anchor="middle">118</text>
<text x="338.75" y="115.8" font-size="6.3" fill="#1a1a1a" stroke="#1a1a1a" stroke-width="0.22" text-anchor="middle">110</text>
<text x="381.25" y="137.1" font-size="6.3" fill="#1a1a1a" stroke="#1a1a1a" stroke-width="0.22" text-anchor="middle">118</text>
<text x="405.5" y="159.1" font-size="6.3" fill="#1a1a1a" stroke="#1a1a1a" stroke-width="0.22" text-anchor="middle">107</text>
<text x="415" y="171.1" font-size="6.3" fill="#1a1a1a" stroke="#1a1a1a" stroke-width="0.22" text-anchor="middle">115</text>
<text x="407" y="177.1" font-size="6.3" fill="#1a1a1a" stroke="#1a1a1a" stroke-width="0.22" text-anchor="middle">120</text>
<text x="404.25" y="202.8" font-size="6.3" fill="#1a1a1a" stroke="#1a1a1a" stroke-width="0.22" text-anchor="middle">103</text>
<text x="373.25" y="201.6" font-size="6.3" fill="#1a1a1a" stroke="#1a1a1a" stroke-width="0.22" text-anchor="middle">120</text>
<text x="338" y="210.8" font-size="6.3" fill="#1a1a1a" stroke="#1a1a1a" stroke-width="0.22" text-anchor="middle">10</text>
<text x="332" y="216.6" font-size="6.3" fill="#1a1a1a" stroke="#1a1a1a" stroke-width="0.22" text-anchor="middle">60</text>
<text x="285.75" y="242.6" font-size="6.3" fill="#1a1a1a" stroke="#1a1a1a" stroke-width="0.22" text-anchor="middle">106</text>
<text x="276.25" y="262.6" font-size="6.3" fill="#1a1a1a" stroke="#1a1a1a" stroke-width="0.22" text-anchor="middle">112</text>
<text x="342.5" y="264.1" font-size="6.3" fill="#1a1a1a" stroke="#1a1a1a" stroke-width="0.22" text-anchor="middle">140</text>
<text x="374.25" y="240.8" font-size="6.3" fill="#1a1a1a" stroke="#1a1a1a" stroke-width="0.22" text-anchor="middle">92</text>
<text x="390" y="260.1" font-size="6.3" fill="#1a1a1a" stroke="#1a1a1a" stroke-width="0.22" text-anchor="middle">102</text>
<text x="498" y="227.1" font-size="6.3" fill="#1a1a1a" stroke="#1a1a1a" stroke-width="0.22" text-anchor="middle">118</text>
<text x="510" y="224.1" font-size="6.3" fill="#1a1a1a" stroke="#1a1a1a" stroke-width="0.22" text-anchor="middle">113</text>
<text x="538.75" y="207.1" font-size="6.3" fill="#1a1a1a" stroke="#1a1a1a" stroke-width="0.22" text-anchor="middle">118</text>
<text x="568" y="196.6" font-size="6.3" fill="#1a1a1a" stroke="#1a1a1a" stroke-width="0.22" text-anchor="middle">41</text>
<text x="570.5" y="197.8" font-size="6.3" fill="#1a1a1a" stroke="#1a1a1a" stroke-width="0.22" text-anchor="middle">18</text>
<text x="621.25" y="177.1" font-size="6.3" fill="#1a1a1a" stroke="#1a1a1a" stroke-width="0.22" text-anchor="middle">106</text>
<text x="582.5" y="242.1" font-size="6.3" fill="#1a1a1a" stroke="#1a1a1a" stroke-width="0.22" text-anchor="middle">85</text>
<text x="683.75" y="155.1" font-size="6.3" fill="#1a1a1a" stroke="#1a1a1a" stroke-width="0.22" text-anchor="middle">93</text>
<text x="661.25" y="302.1" font-size="6.3" fill="#1a1a1a" stroke="#1a1a1a" stroke-width="0.22" text-anchor="middle">117</text>
<text x="746.5" y="197.8" font-size="6.3" fill="#1a1a1a" stroke="#1a1a1a" stroke-width="0.22" text-anchor="middle">95</text>
<text x="743.25" y="202.8" font-size="6.3" fill="#1a1a1a" stroke="#1a1a1a" stroke-width="0.22" text-anchor="middle">97</text>
<circle cx="150.2" cy="109.5" r="2.55" fill="#00009a" stroke="#000070" stroke-width="0.5"/>
<circle cx="187.8" cy="107.6" r="2.55" fill="#00009a" stroke="#000070" stroke-width="0.5"/>
<circle cx="103.2" cy="134.5" r="2.55" fill="#00009a" stroke="#000070" stroke-width="0.5"/>
<circle cx="224.25" cy="144.5" r="2.55" fill="#00009a" stroke="#000070" stroke-width="0.5"/>
<circle cx="272" cy="162.5" r="2.55" fill="#00009a" stroke="#000070" stroke-width="0.5"/>
<circle cx="363.75" cy="94.25" r="2.55" fill="#00009a" stroke="#000070" stroke-width="0.5"/>
<circle cx="338.75" cy="106.25" r="2.55" fill="#00009a" stroke="#000070" stroke-width="0.5"/>
<circle cx="381.25" cy="127.5" r="2.55" fill="#00009a" stroke="#000070" stroke-width="0.5"/>
<circle cx="351.5" cy="127.5" r="2.55" fill="#00009a" stroke="#000070" stroke-width="0.5"/>
<circle cx="405.5" cy="149.5" r="2.55" fill="#00009a" stroke="#000070" stroke-width="0.5"/>
<circle cx="415" cy="161.5" r="2.55" fill="#00009a" stroke="#000070" stroke-width="0.5"/>
<circle cx="407" cy="167.5" r="2.55" fill="#00009a" stroke="#000070" stroke-width="0.5"/>
<circle cx="404.25" cy="193.25" r="2.55" fill="#00009a" stroke="#000070" stroke-width="0.5"/>
<circle cx="373.25" cy="192" r="2.55" fill="#00009a" stroke="#000070" stroke-width="0.5"/>
<circle cx="338" cy="201.25" r="2.55" fill="#00009a" stroke="#000070" stroke-width="0.5"/>
<circle cx="332" cy="207" r="2.55" fill="#00009a" stroke="#000070" stroke-width="0.5"/>
<circle cx="333.75" cy="211.25" r="2.55" fill="#00009a" stroke="#000070" stroke-width="0.5"/>
<circle cx="285.75" cy="233" r="2.55" fill="#00009a" stroke="#000070" stroke-width="0.5"/>
<circle cx="276.25" cy="253" r="2.55" fill="#00009a" stroke="#000070" stroke-width="0.5"/>
<circle cx="342.5" cy="254.5" r="2.55" fill="#00009a" stroke="#000070" stroke-width="0.5"/>
<circle cx="374.25" cy="231.25" r="2.55" fill="#00009a" stroke="#000070" stroke-width="0.5"/>
<circle cx="390" cy="250.5" r="2.55" fill="#00009a" stroke="#000070" stroke-width="0.5"/>
<circle cx="498" cy="217.5" r="2.55" fill="#00009a" stroke="#000070" stroke-width="0.5"/>
<circle cx="510" cy="214.5" r="2.55" fill="#00009a" stroke="#000070" stroke-width="0.5"/>
<circle cx="538.75" cy="197.5" r="2.55" fill="#00009a" stroke="#000070" stroke-width="0.5"/>
<circle cx="568" cy="187" r="2.55" fill="#00009a" stroke="#000070" stroke-width="0.5"/>
<circle cx="570.5" cy="188.25" r="2.55" fill="#00009a" stroke="#000070" stroke-width="0.5"/>
<circle cx="621.25" cy="167.5" r="2.55" fill="#00009a" stroke="#000070" stroke-width="0.5"/>
<circle cx="582.5" cy="232.5" r="2.55" fill="#00009a" stroke="#000070" stroke-width="0.5"/>
<circle cx="683.75" cy="145.5" r="2.55" fill="#00009a" stroke="#000070" stroke-width="0.5"/>
<circle cx="661.25" cy="292.5" r="2.55" fill="#00009a" stroke="#000070" stroke-width="0.5"/>
<circle cx="746.5" cy="188.25" r="2.55" fill="#00009a" stroke="#000070" stroke-width="0.5"/>
<circle cx="743.25" cy="193.25" r="2.55" fill="#00009a" stroke="#000070" stroke-width="0.5"/>
<text x="124" y="157.9" font-size="6.3" fill="#1a1a1a" stroke="#1a1a1a" stroke-width="0.22" text-anchor="middle">165</text>
<text x="197.8" y="261.6" font-size="6.3" fill="#1a1a1a" stroke="#1a1a1a" stroke-width="0.22" text-anchor="middle">133</text>
<text x="308.75" y="235.3" font-size="6.3" fill="#1a1a1a" stroke="#1a1a1a" stroke-width="0.22" text-anchor="middle">121</text>
<text x="333.25" y="242.8" font-size="6.3" fill="#1a1a1a" stroke="#1a1a1a" stroke-width="0.22" text-anchor="middle">169</text>
<text x="351.25" y="219.6" font-size="6.3" fill="#1a1a1a" stroke="#1a1a1a" stroke-width="0.22" text-anchor="middle">157</text>
<text x="404.25" y="230.8" font-size="6.3" fill="#1a1a1a" stroke="#1a1a1a" stroke-width="0.22" text-anchor="middle">122</text>
<text x="393" y="274.6" font-size="6.3" fill="#1a1a1a" stroke="#1a1a1a" stroke-width="0.22" text-anchor="middle">194</text>
<text x="477" y="192.1" font-size="6.3" fill="#1a1a1a" stroke="#1a1a1a" stroke-width="0.22" text-anchor="middle">172</text>
<text x="491.25" y="194.1" font-size="6.3" fill="#1a1a1a" stroke="#1a1a1a" stroke-width="0.22" text-anchor="middle">140</text>
<text x="533.25" y="217.6" font-size="6.3" fill="#1a1a1a" stroke="#1a1a1a" stroke-width="0.22" text-anchor="middle">135</text>
<text x="515.5" y="221.6" font-size="6.3" fill="#1a1a1a" stroke="#1a1a1a" stroke-width="0.22" text-anchor="middle">106</text>
<text x="531.75" y="232.1" font-size="6.3" fill="#1a1a1a" stroke="#1a1a1a" stroke-width="0.22" text-anchor="middle">140</text>
<text x="598" y="181.6" font-size="6.3" fill="#1a1a1a" stroke="#1a1a1a" stroke-width="0.22" text-anchor="middle">128</text>
<text x="423.3" y="200.6" font-size="6.3" fill="#1a1a1a" stroke="#1a1a1a" stroke-width="0.22" text-anchor="middle">128</text>
<text x="601" y="189.1" font-size="6.3" fill="#1a1a1a" stroke="#1a1a1a" stroke-width="0.22" text-anchor="middle">135</text>
<circle cx="124" cy="148.3" r="1.5" fill="#8c8c8c" stroke="#8c8c8c" stroke-width="0.5"/>
<circle cx="197.8" cy="252" r="1.5" fill="#8c8c8c" stroke="#8c8c8c" stroke-width="0.5"/>
<circle cx="308.75" cy="225.75" r="1.5" fill="#8c8c8c" stroke="#8c8c8c" stroke-width="0.5"/>
<circle cx="333.25" cy="233.25" r="1.5" fill="#8c8c8c" stroke="#8c8c8c" stroke-width="0.5"/>
<circle cx="351.25" cy="210" r="1.5" fill="#8c8c8c" stroke="#8c8c8c" stroke-width="0.5"/>
<circle cx="404.25" cy="221.25" r="1.5" fill="#8c8c8c" stroke="#8c8c8c" stroke-width="0.5"/>
<circle cx="393" cy="265" r="1.5" fill="#8c8c8c" stroke="#8c8c8c" stroke-width="0.5"/>
<circle cx="477" cy="182.5" r="1.5" fill="#8c8c8c" stroke="#8c8c8c" stroke-width="0.5"/>
<circle cx="491.25" cy="184.5" r="1.5" fill="#8c8c8c" stroke="#8c8c8c" stroke-width="0.5"/>
<circle cx="533.25" cy="208" r="1.5" fill="#8c8c8c" stroke="#8c8c8c" stroke-width="0.5"/>
<circle cx="515.5" cy="212" r="1.5" fill="#8c8c8c" stroke="#8c8c8c" stroke-width="0.5"/>
<circle cx="531.75" cy="222.5" r="1.5" fill="#8c8c8c" stroke="#8c8c8c" stroke-width="0.5"/>
<circle cx="598" cy="172" r="1.5" fill="#8c8c8c" stroke="#8c8c8c" stroke-width="0.5"/>
<circle cx="423.3" cy="191" r="1.5" fill="#8c8c8c" stroke="#8c8c8c" stroke-width="0.5"/>
<circle cx="601" cy="179.5" r="1.5" fill="#8c8c8c" stroke="#8c8c8c" stroke-width="0.5"/>
<rect x="46.5" y="46.5" width="779" height="406" fill="none" stroke="#4a4a4a" stroke-width="1.1"/>
<line x1="154.2" y1="452" x2="154.2" y2="457.5" stroke="#333" stroke-width="1"/>
<text x="154.2" y="471.8" font-size="9.5" fill="#111" text-anchor="middle">-500000</text>
<line x1="304.2" y1="452" x2="304.2" y2="457.5" stroke="#333" stroke-width="1"/>
<text x="304.2" y="471.8" font-size="9.5" fill="#111" text-anchor="middle">0</text>
<line x1="454.2" y1="452" x2="454.2" y2="457.5" stroke="#333" stroke-width="1"/>
<text x="454.2" y="471.8" font-size="9.5" fill="#111" text-anchor="middle">500000</text>
<line x1="604.2" y1="452" x2="604.2" y2="457.5" stroke="#333" stroke-width="1"/>
<text x="604.2" y="471.8" font-size="9.5" fill="#111" text-anchor="middle">1000000</text>
<line x1="754.2" y1="452" x2="754.2" y2="457.5" stroke="#333" stroke-width="1"/>
<text x="754.2" y="471.8" font-size="9.5" fill="#111" text-anchor="middle">1500000</text>
<line x1="40.8" y1="68.4" x2="46.5" y2="68.4" stroke="#333" stroke-width="1"/>
<text x="0" y="0" transform="translate(33.1 68.4) rotate(-90)" font-size="9.5" fill="#111" text-anchor="middle">5800000</text>
<line x1="40.8" y1="128.4" x2="46.5" y2="128.4" stroke="#333" stroke-width="1"/>
<text x="0" y="0" transform="translate(33.1 128.4) rotate(-90)" font-size="9.5" fill="#111" text-anchor="middle">5600000</text>
<line x1="40.8" y1="188.4" x2="46.5" y2="188.4" stroke="#333" stroke-width="1"/>
<text x="0" y="0" transform="translate(33.1 188.4) rotate(-90)" font-size="9.5" fill="#111" text-anchor="middle">5400000</text>
<line x1="40.8" y1="248.4" x2="46.5" y2="248.4" stroke="#333" stroke-width="1"/>
<text x="0" y="0" transform="translate(33.1 248.4) rotate(-90)" font-size="9.5" fill="#111" text-anchor="middle">5200000</text>
<line x1="40.8" y1="308.4" x2="46.5" y2="308.4" stroke="#333" stroke-width="1"/>
<text x="0" y="0" transform="translate(33.1 308.4) rotate(-90)" font-size="9.5" fill="#111" text-anchor="middle">5000000</text>
<line x1="40.8" y1="368.4" x2="46.5" y2="368.4" stroke="#333" stroke-width="1"/>
<text x="0" y="0" transform="translate(33.1 368.4) rotate(-90)" font-size="9.5" fill="#111" text-anchor="middle">4800000</text>
<line x1="40.8" y1="428.4" x2="46.5" y2="428.4" stroke="#333" stroke-width="1"/>
<text x="0" y="0" transform="translate(33.1 428.4) rotate(-90)" font-size="9.5" fill="#111" text-anchor="middle">4600000</text>
<text x="385.6" y="73.3" font-size="15" font-weight="bold" fill="#000" textLength="137" lengthAdjust="spacingAndGlyphs">Мөсний зузаан, см</text>
<text x="578.4" y="71.5" font-size="10.2" font-weight="bold" fill="#000" textLength="51.5" lengthAdjust="spacingAndGlyphs">(2026/4/1)</text>
<text x="312.4" y="444.2" font-size="11.3" fill="#000" textLength="283.6" lengthAdjust="spacingAndGlyphs">Ус, цаг уур, орчны судалгаа мэдээллийн хүрээлэн</text>
<rect x="64.3" y="369.1" width="77.3" height="68.3" fill="#fff" stroke="#444" stroke-width="1"/>
<circle cx="74.3" cy="382.6" r="4.5" fill="#cd0000"/>
<circle cx="74.3" cy="396.3" r="3.5" fill="#00cd00"/>
<circle cx="74.3" cy="409.9" r="2.2" fill="#00008b"/>
<circle cx="74.3" cy="423.8" r="1.4" fill="#8c8c8c"/>
<text x="84.4" y="386.8" font-size="10.4" fill="#111" textLength="39.0" lengthAdjust="spacingAndGlyphs">0-40 см</text>
<text x="84.4" y="400.2" font-size="10.4" fill="#111" textLength="45.2" lengthAdjust="spacingAndGlyphs">40-80 см</text>
<text x="84.4" y="413.6" font-size="10.4" fill="#111" textLength="52.0" lengthAdjust="spacingAndGlyphs">80-120 см</text>
<text x="84.4" y="427.0" font-size="10.4" fill="#111" textLength="44.5" lengthAdjust="spacingAndGlyphs">120 см &lt;</text>
</svg></div></body></html>
